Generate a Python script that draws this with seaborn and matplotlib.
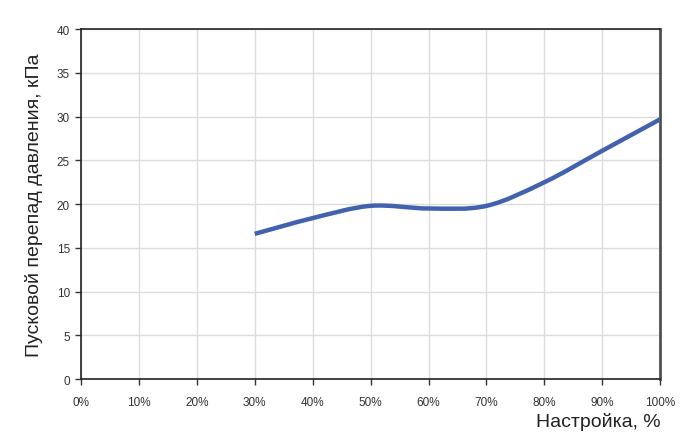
import numpy as np
import matplotlib
matplotlib.use("Agg")
import matplotlib.pyplot as plt
import seaborn as sns
from matplotlib.path import Path
from matplotlib.patches import PathPatch

# Данные
nastroika = [30, 40, 50, 60, 70, 80, 90, 100]          # %
perepad = [16.6, 18.4, 19.8, 19.5, 19.8, 22.5, 26.1, 29.7]  # кПа
x_ticks = [0, 10, 20, 30, 40, 50, 60, 70, 80, 90, 100]
y_ticks = [0, 5, 10, 15, 20, 25, 30, 35, 40]

sns.set_style("white")
plt.rcParams['font.family'] = ['Liberation Sans', 'DejaVu Sans']

fig = plt.figure(figsize=(6.8, 4.35), dpi=100)
ax = fig.add_axes([0.119, 0.126, 0.852, 0.805])

# сглаженная линия как в Excel (Catmull-Rom -> кривые Безье)
x = np.array(nastroika, dtype=float)
y = np.array(perepad, dtype=float)
xp = np.concatenate([[x[0]], x, [x[-1]]])
yp = np.concatenate([[y[0]], y, [y[-1]]])
verts = [(x[0], y[0])]
codes = [Path.MOVETO]
for i in range(1, len(xp) - 2):
    c1 = (xp[i] + (xp[i + 1] - xp[i - 1]) / 6, yp[i] + (yp[i + 1] - yp[i - 1]) / 6)
    c2 = (xp[i + 1] - (xp[i + 2] - xp[i]) / 6, yp[i + 1] - (yp[i + 2] - yp[i]) / 6)
    verts += [c1, c2, (xp[i + 1], yp[i + 1])]
    codes += [Path.CURVE4] * 3
ax.add_patch(PathPatch(Path(verts, codes), facecolor='none', edgecolor='#4262AE',
                       lw=3.2, capstyle='butt', zorder=3))

ax.set_xlim(0, 100)
ax.set_ylim(0, 40)
ax.set_xticks(x_ticks)
ax.set_xticklabels([f"{t}%" for t in x_ticks])
ax.set_yticks(y_ticks)
ax.grid(True, color='#dcdcdc', lw=1)
ax.set_axisbelow(True)

for side in ['left', 'bottom', 'top']:
    ax.spines[side].set_color('#222222')
    ax.spines[side].set_linewidth(1.2)
ax.spines['right'].set_color('#505050')
ax.spines['right'].set_linewidth(2)

ax.tick_params(axis='both', labelsize=8.5, colors='#333333', length=4, width=1,
               direction='out', pad=8)
ax.tick_params(axis='y', pad=4)
ax.tick_params(left=True, bottom=True)

ax.set_ylabel("Пусковой перепад давления, кПа", fontsize=14, color='#222222', labelpad=10)
ax.set_xlabel("Настройка, %", fontsize=14, color='#222222', loc='right', labelpad=3)

fig.savefig("out.png", dpi=100)
